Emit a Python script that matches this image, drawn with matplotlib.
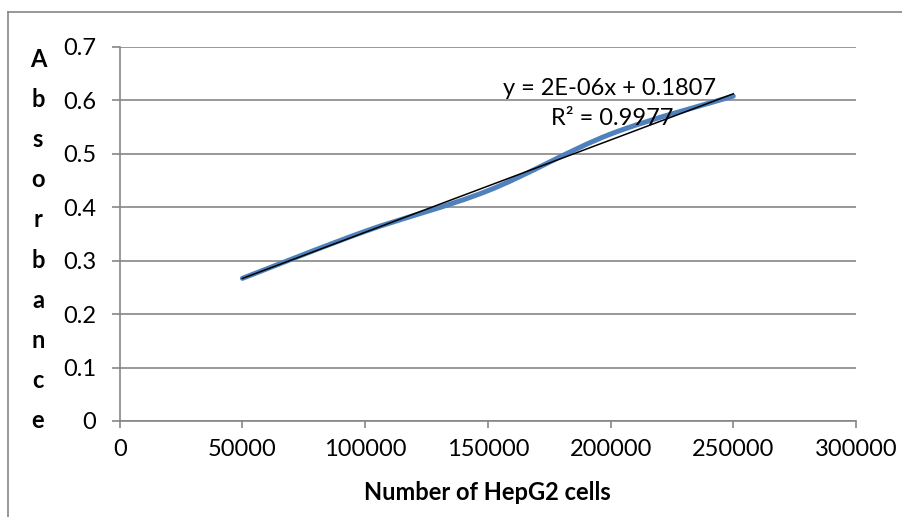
import numpy as np
import matplotlib
matplotlib.use("Agg")
import matplotlib.pyplot as plt
from matplotlib.path import Path
from matplotlib.patches import PathPatch

plt.rcParams['font.family'] = ['Lato', 'DejaVu Sans']

# данные
cells = [50000, 100000, 150000, 200000, 250000]
absorbance = [0.267, 0.355, 0.431, 0.537, 0.608]
x_ticks = [0, 50000, 100000, 150000, 200000, 250000, 300000]
y_ticks = [0, 0.1, 0.2, 0.3, 0.4, 0.5, 0.6, 0.7]
eq_text = "y = 2E-06x + 0.1807"
r2_text = "R² = 0.9977"

grey = "#868686"
blue = "#4F81BD"
fs = 17

fig = plt.figure(figsize=(9.02, 5.17), dpi=100)
ax = fig.add_axes([0.1327, 0.1857, 0.949 - 0.1327, 0.9091 - 0.1857])

# рамка вокруг области диаграммы (видны только левая и верхняя стороны)
fig.add_artist(plt.Line2D([8 / 902, 8 / 902], [0, 1 - 12 / 517], transform=fig.transFigure,
                          color=grey, lw=1.2))
fig.add_artist(plt.Line2D([8 / 902, 1], [1 - 12 / 517, 1 - 12 / 517], transform=fig.transFigure,
                          color=grey, lw=1.2))

# сглаженная линия как в Excel (кривые Безье через точки)
xs = np.array(cells, dtype=float)
ys = np.array(absorbance, dtype=float)
verts = [(xs[0], ys[0])]
codes = [Path.MOVETO]
for i in range(len(xs) - 1):
    x0, y0 = (xs[i - 1], ys[i - 1]) if i > 0 else (xs[i], ys[i])
    x3, y3 = (xs[i + 2], ys[i + 2]) if i + 2 < len(xs) else (xs[i + 1], ys[i + 1])
    c1 = (xs[i] + (xs[i + 1] - x0) / 6, ys[i] + (ys[i + 1] - y0) / 6)
    c2 = (xs[i + 1] - (x3 - xs[i]) / 6, ys[i + 1] - (y3 - ys[i]) / 6)
    verts += [c1, c2, (xs[i + 1], ys[i + 1])]
    codes += [Path.CURVE4] * 3
ax.add_patch(PathPatch(Path(verts, codes), facecolor="none", edgecolor=blue, lw=3.6,
                       capstyle="round", zorder=3))

# линия тренда
k, b = np.polyfit(xs, ys, 1)
ax.plot([xs[0], xs[-1]], [k * xs[0] + b, k * xs[-1] + b], color="black", lw=1.1, zorder=4)

ax.text(199400, 0.623, eq_text, ha="center", va="center", fontsize=fs)
ax.text(200600, 0.567, r2_text, ha="center", va="center", fontsize=fs)

ax.set_xlim(0, 300000)
ax.set_ylim(0, 0.7)
ax.set_xticks(x_ticks)
ax.set_xticklabels([str(v) for v in x_ticks])
ax.set_yticks(y_ticks)
ax.set_yticklabels(["0"] + ["%.1f" % v for v in y_ticks[1:]])
ax.grid(axis="y", color=grey, lw=1.2)
ax.set_axisbelow(True)

for s in ["top", "right"]:
    ax.spines[s].set_visible(False)
for s in ["left", "bottom"]:
    ax.spines[s].set_color(grey)
    ax.spines[s].set_linewidth(1.2)
ax.tick_params(axis="y", length=6, width=1.2, color=grey, pad=11, labelsize=fs)
ax.tick_params(axis="x", length=5, width=1.2, color=grey, pad=8, labelsize=fs)

ax.set_xlabel("Number of HepG2 cells", fontsize=fs, fontweight="bold", labelpad=15)
fig.text(38 / 902, 1 - 240 / 517, "\n".join("Absorbance"), ha="center", va="center",
         fontsize=fs, fontweight="bold", linespacing=1.9)

fig.savefig("out.png", dpi=100)
